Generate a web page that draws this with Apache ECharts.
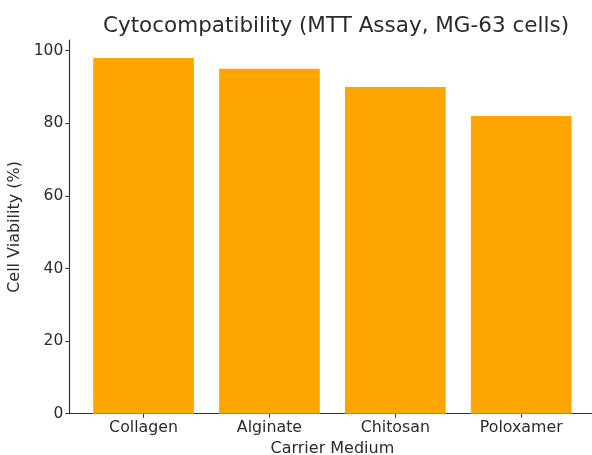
<!DOCTYPE html>
<html>
<head>
<meta charset="utf-8">
<script src="https://cdn.jsdelivr.net/npm/echarts@6/dist/echarts.min.js"></script>
<style>
  html, body { margin: 0; padding: 0; background: #fff; }
  #chart { width: 592px; height: 455px; }
</style>
</head>
<body>
<div id="chart"></div>
<script>
// Carrier media and their MTT cell viability (%)
const categories = ['Collagen', 'Alginate', 'Chitosan', 'Poloxamer'];
const viability = [98, 95, 90, 82];
const yTicks = [0, 20, 40, 60, 80, 100];

const font = 'DejaVu Sans';
const ink = '#2b2b2b';

// bars sit at integer positions on a numeric x axis so the axis can carry side margins
const barData = categories.map((c, i) => [i, viability[i]]);
const xPositions = categories.map((c, i) => i);

const chart = echarts.init(document.getElementById('chart'));
chart.setOption({
  animation: false,
  title: {
    text: 'Cytocompatibility (MTT Assay, MG-63 cells)',
    left: 331, top: 10, textAlign: 'center',
    textStyle: { fontFamily: font, fontSize: 21.5, fontWeight: 'normal', color: ink }
  },
  grid: {
    left: 69.3, right: -3.5, top: 40.2, bottom: 41.3,
    containLabel: false, outerBoundsMode: 'none'
  },
  xAxis: {
    type: 'value', min: -0.59, max: 3.59,
    name: 'Carrier Medium', nameLocation: 'middle', nameGap: 25,
    nameTextStyle: { fontFamily: font, fontSize: 16, color: ink },
    axisLine: { show: true, onZero: false, lineStyle: { color: '#333', width: 1.2 } },
    axisTick: { show: true, length: 4, customValues: xPositions, lineStyle: { color: '#333' } },
    axisLabel: {
      customValues: xPositions, margin: 6,
      fontFamily: font, fontSize: 15.8, color: ink,
      formatter: v => categories[Math.round(v)]
    },
    splitLine: { show: false }
  },
  yAxis: {
    type: 'value', min: 0, max: 102.9,
    name: 'Cell Viability (%)', nameLocation: 'middle', nameGap: 40,
    nameTextStyle: { fontFamily: font, fontSize: 16, color: ink },
    axisLine: { show: true, onZero: false, lineStyle: { color: '#333', width: 1.2 } },
    axisTick: { show: true, length: 4, customValues: yTicks, lineStyle: { color: '#333' } },
    axisLabel: { customValues: yTicks, margin: 6, fontFamily: font, fontSize: 15.5, color: ink },
    splitLine: { show: false }
  },
  series: [{
    type: 'bar',
    data: barData,
    barWidth: '80%',
    itemStyle: { color: '#FFA500' }
  }]
});
</script>
</body>
</html>
